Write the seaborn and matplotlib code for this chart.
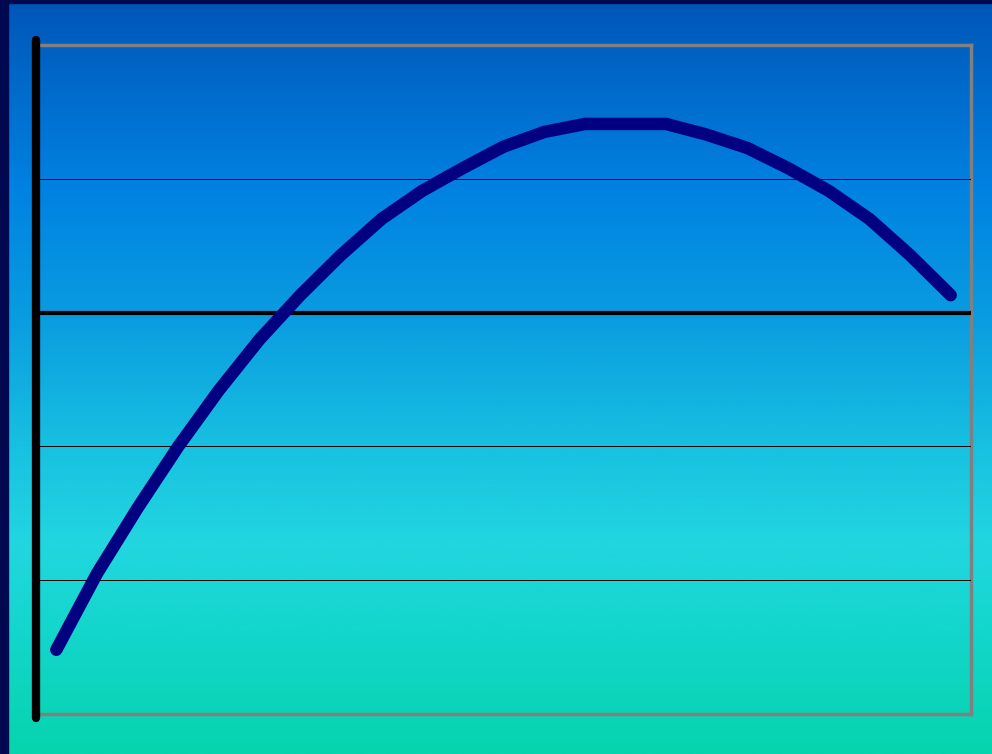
import numpy as np
import pandas as pd
import matplotlib
matplotlib.use("Agg")
import matplotlib.pyplot as plt
import seaborn as sns
from matplotlib.colors import LinearSegmentedColormap
from matplotlib.patches import Rectangle

# Data (23 categories)
categories = list(range(1, 24))
values = [-2.52, -1.95, -1.46, -1.00, -0.58, -0.20, 0.13, 0.43, 0.70, 0.91,
          1.08, 1.24, 1.35, 1.41, 1.41, 1.41, 1.33, 1.23, 1.08, 0.91,
          0.70, 0.43, 0.13]
y_ticks = [-3, -2, -1, 0, 1, 2]

sns.set_theme(style="white")

W, H = 992, 754
fig = plt.figure(figsize=(W / 100, H / 100), dpi=100)

# Gradient background
bg = fig.add_axes([0, 0, 1, 1], zorder=0)
stops = [(0.0, "#0056B8"), (0.25, "#0082E2"), (0.42, "#0A9CE0"),
         (0.60, "#18C2E0"), (0.72, "#22D6E0"), (0.85, "#12D6CA"),
         (1.0, "#06D4AE")]
cmap = LinearSegmentedColormap.from_list("bg", stops)
grad = np.linspace(0, 1, 400).reshape(-1, 1)
bg.imshow(grad, aspect="auto", cmap=cmap, extent=[0, 1, 1, 0])
bg.set_xlim(0, 1)
bg.set_ylim(1, 0)
bg.axis("off")
# dark frame strips (left and top)
fig.patches.append(Rectangle((0, 0), 8 / W, 1, transform=fig.transFigure,
                             color="#000850", zorder=1))
fig.patches.append(Rectangle((0, 1 - 3 / H), 1, 3 / H, transform=fig.transFigure,
                             color="#000850", zorder=1))

left, right, top, bottom = 36, 971, 45, 714
ax = fig.add_axes([left / W, (H - bottom) / H, (right - left) / W, (bottom - top) / H],
                  zorder=2)
ax.patch.set_alpha(0)

df = pd.DataFrame({"x": np.arange(len(categories)), "y": values})
sns.lineplot(data=df, x="x", y="y", ax=ax, color="#000080", linewidth=9,
             solid_capstyle="round", solid_joinstyle="miter", zorder=5)

ax.set_xlim(-0.5, len(categories) - 0.5)
ax.set_ylim(y_ticks[0], y_ticks[-1])

for yv in y_ticks[1:-1]:
    if yv == 0:
        ax.axhline(yv, color="black", lw=3, zorder=3)
    else:
        ax.axhline(yv, color="black", lw=0.7, zorder=3)

for s in ["top", "right", "bottom"]:
    ax.spines[s].set_color("#808080")
    ax.spines[s].set_linewidth(2.5)
    ax.spines[s].set_visible(True)
ax.spines["left"].set_visible(False)
ax.axvline(-0.5, ymin=-0.006, ymax=1.007, color="black", lw=6,
           solid_capstyle="round", clip_on=False, zorder=6)

ax.set_xticks([])
ax.set_yticks([])
ax.set_xlabel("")
ax.set_ylabel("")

fig.savefig("out.png", dpi=100)
